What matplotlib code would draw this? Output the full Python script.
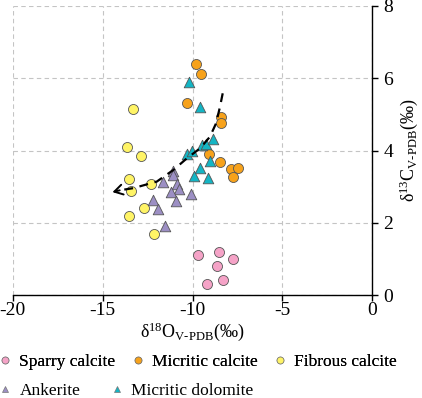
import matplotlib
matplotlib.use("Agg")
import matplotlib.pyplot as plt
from matplotlib.lines import Line2D

plt.rcParams['font.family'] = ['Liberation Serif', 'DejaVu Serif']
plt.rcParams['mathtext.fontset'] = 'custom'
plt.rcParams['mathtext.rm'] = 'Liberation Serif'
plt.rcParams['mathtext.it'] = 'Liberation Serif:italic'
plt.rcParams['mathtext.default'] = 'rm'
plt.rcParams['axes.unicode_minus'] = False

sparry_x = [-9.71, -8.50, -7.73, -8.62, -8.30, -9.19]
sparry_y = [1.10, 1.19, 1.00, 0.80, 0.41, 0.31]

micritic_calcite_x = [-9.81, -9.53, -10.32, -8.40, -8.43, -9.10, -8.49, -7.88, -7.47, -7.73]
micritic_calcite_y = [6.39, 6.10, 5.30, 4.92, 4.75, 3.91, 3.67, 3.48, 3.52, 3.28]

fibrous_x = [-13.29, -13.64, -12.88, -13.51, -13.40, -12.31, -12.72, -13.51, -12.12]
fibrous_y = [5.15, 4.10, 3.85, 3.21, 2.89, 3.08, 2.40, 2.20, 1.69]

ankerite_x = [-11.07, -11.10, -11.62, -10.88, -10.73, -11.21, -12.18, -10.90, -10.10, -11.92, -11.51]
ankerite_y = [3.43, 3.31, 3.12, 3.07, 2.94, 2.85, 2.63, 2.61, 2.81, 2.39, 1.91]

dolomite_x = [-10.21, -9.60, -10.31, -10.03, -9.49, -9.27, -8.88, -9.01, -9.58, -9.92, -9.12]
dolomite_y = [5.89, 5.21, 3.90, 4.00, 4.15, 4.18, 4.32, 3.71, 3.53, 3.29, 3.24]

trend_x = [-8.32, -8.47, -8.69, -9.03, -9.58, -10.32, -11.07, -11.99, -13.29, -14.05]
trend_y = [5.58, 5.21, 4.75, 4.38, 4.06, 3.78, 3.46, 3.14, 2.96, 2.90]
arrow_tip = (-14.45, 2.85)

labels = ["Sparry calcite", "Micritic calcite", "Fibrous calcite", "Ankerite", "Micritic dolomite"]
colors = ["#F5A3C7", "#F7A21B", "#FFF466", "#9C8FC4", "#14B5C4"]
markers = ["o", "o", "o", "^", "^"]

fig = plt.figure(figsize=(4.22, 3.98), dpi=100)
ax = fig.add_axes([12.7/422, 1-295.3/398, (372.3-12.7)/422, (295.3-5.7)/398])

series = [(sparry_x, sparry_y), (micritic_calcite_x, micritic_calcite_y), (fibrous_x, fibrous_y),
          (ankerite_x, ankerite_y), (dolomite_x, dolomite_y)]
for (xs, ys), c, m in zip(series, colors, markers):
    ax.scatter(xs, ys, s=52 if m == "o" else 58, marker=m, facecolor=c, edgecolor="#555555",
               linewidth=0.6, zorder=3)

ax.plot(trend_x, trend_y, color="black", linestyle=(0, (4, 3)), linewidth=1.6, zorder=4)
ax.annotate("", xy=arrow_tip, xytext=(trend_x[-1], trend_y[-1]),
            arrowprops=dict(arrowstyle="->,head_length=0.5,head_width=0.3", color="black", lw=1.4,
                            mutation_scale=12, shrinkA=0, shrinkB=0), zorder=4)

ax.set_xlim(-20, 0)
ax.set_ylim(0, 8)
ax.set_xticks([-20, -15, -10, -5, 0])
ax.set_yticks([0, 2, 4, 6, 8])
ax.grid(True, color="#C4C4C4", linestyle=(0, (4, 3)), linewidth=0.8)
ax.set_axisbelow(True)
for s in ["left", "top"]:
    ax.spines[s].set_visible(False)
ax.spines["right"].set_linewidth(1.0)
ax.spines["bottom"].set_linewidth(1.0)
ax.yaxis.tick_right()
ax.yaxis.set_label_position("right")
ax.tick_params(axis="both", labelsize=14, length=4, width=1.0, direction="out", pad=1)
ax.tick_params(axis="y", pad=4)

ax.set_xlabel(r"$\delta^{18}\mathrm{O}_{\mathrm{V\text{-}PDB}}$(‰)", fontsize=13, labelpad=1)
ax.set_ylabel(r"$\delta^{13}\mathrm{C}_{\mathrm{V\text{-}PDB}}$(‰)", fontsize=13, labelpad=3)

handles = [Line2D([], [], marker=m, linestyle="none", markerfacecolor=c, markeredgecolor="#777777",
                  markeredgewidth=0.5, markersize=5) for c, m in zip(colors, markers)]

leg1 = fig.legend(handles[:3], labels[:3], loc="center left", bbox_to_anchor=(-0.02, 1-362/398),
                  ncol=3, frameon=False, fontsize=12.5, handlelength=0.8, handletextpad=0.4,
                  columnspacing=0.9, borderaxespad=0)
leg2 = fig.legend(handles[3:], labels[3:], loc="center left", bbox_to_anchor=(-0.02, 1-391/398),
                  ncol=2, frameon=False, fontsize=12.5, handlelength=0.8, handletextpad=0.4,
                  columnspacing=1.7, borderaxespad=0)
fig.add_artist(leg1)

fig.savefig("out.png", dpi=100)
